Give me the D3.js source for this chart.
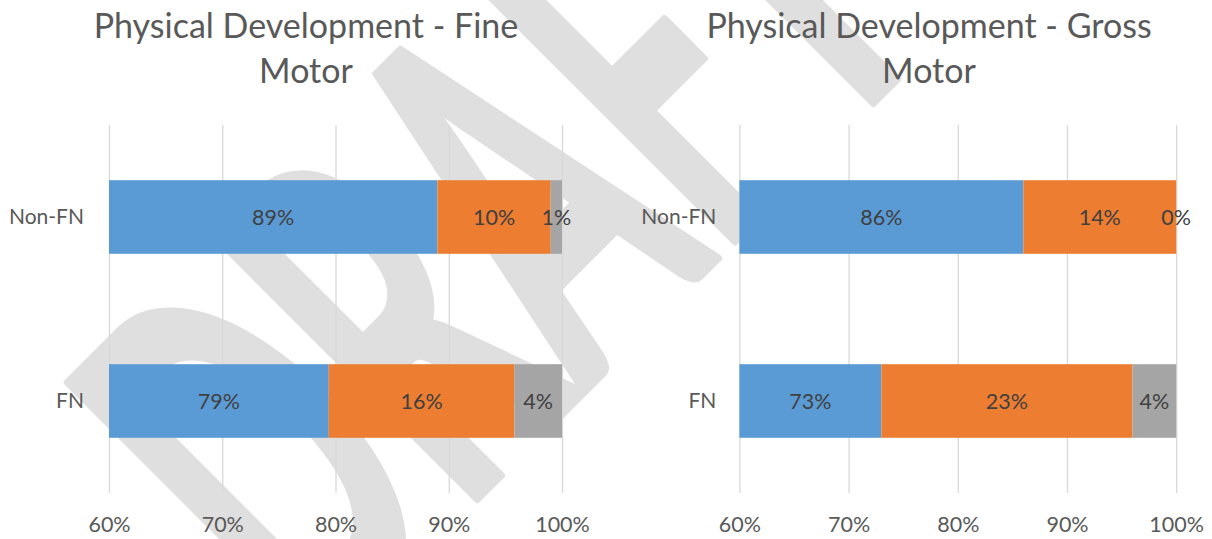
<!DOCTYPE html>
<html>
<head>
<meta charset="utf-8">
<script src="https://cdn.jsdelivr.net/npm/d3@7"></script>
<style>
  html, body { margin: 0; padding: 0; background: #ffffff; }
  svg { display: block; font-family: Lato, "Open Sans", sans-serif; }
</style>
</head>
<body>
<svg id="chart" width="1212" height="539"></svg>
<script>
// Categories and stacked shares (each row sums to 100%)
const categories = ["Non-FN", "FN"];
const segmentKeys = ["segment1", "segment2", "segment3"];
const segmentColors = ["#5B9BD5", "#ED7D31", "#A5A5A5"];

const fineNonFN = [0.89, 0.10, 0.01];
const fineFN = [0.794, 0.164, 0.042];
const grossNonFN = [0.86, 0.14, 0.00];
const grossFN = [0.73, 0.23, 0.04];

const tickValues = [0.6, 0.7, 0.8, 0.9, 1.0];
const fineTitle = ["Physical Development - Fine", "Motor"];
const grossTitle = ["Physical Development - Gross", "Motor"];
const watermarkText = "DRAFT";

const svg = d3.select("#chart");
const pct = d3.format(".0%");

// Background watermark
svg.append("text")
  .attr("transform", "translate(314,662) rotate(-45) scale(0.53,1)")
  .attr("font-family", "Lato, sans-serif")
  .attr("font-weight", 700)
  .attr("font-size", 514)
  .attr("fill", "#dfdfdf")
  .attr("stroke", "#dfdfdf")
  .attr("stroke-width", 8)
  .attr("stroke-linejoin", "round")
  .text(watermarkText);

function drawPanel(opts) {
  const g = svg.append("g");
  const rows = categories.map((c, i) => ({ category: c, values: opts.rows[i] }));

  const x = d3.scaleLinear().domain([0.6, 1.0]).range([opts.x0, opts.x1]).clamp(true);
  const y = d3.scaleBand().domain(categories).range([125, 493])
    .paddingInner(0.6).paddingOuter(0.3);

  // Title
  g.append("text")
    .attr("text-anchor", "middle")
    .attr("font-size", 34)
    .attr("fill", "#595959")
    .selectAll("tspan")
    .data(opts.title)
    .join("tspan")
    .attr("x", opts.titleX)
    .attr("y", (d, i) => 38 + i * 45)
    .text(d => d);

  // Vertical gridlines
  g.append("g")
    .attr("transform", "translate(0,493)")
    .call(d3.axisBottom(x).tickValues(tickValues).tickSize(-368).tickFormat(""))
    .call(a => a.select(".domain").remove())
    .call(a => a.selectAll("line").attr("stroke", "#d9d9d9").attr("stroke-width", 1.3));

  // Stacked bars
  const stacked = rows.map(r => {
    let acc = 0;
    return r.values.map((v, k) => {
      const seg = { category: r.category, key: segmentKeys[k], k, v, start: acc, end: acc + v };
      acc += v;
      return seg;
    });
  }).flat();

  g.append("g")
    .selectAll("rect")
    .data(stacked)
    .join("rect")
    .attr("x", d => x(d.start))
    .attr("y", d => y(d.category))
    .attr("width", d => Math.max(0, x(d.end) - x(d.start)))
    .attr("height", y.bandwidth())
    .attr("fill", d => segmentColors[d.k]);

  // Data labels
  g.append("g")
    .selectAll("text")
    .data(stacked)
    .join("text")
    .attr("x", d => (x(d.start) + x(d.end)) / 2)
    .attr("y", d => y(d.category) + y.bandwidth() / 2)
    .attr("dy", "0.36em")
    .attr("text-anchor", "middle")
    .attr("font-size", 21.5)
    .attr("fill", "#404040")
    .text(d => pct(d.v));

  // Category axis
  g.append("g")
    .attr("transform", `translate(${opts.x0},0)`)
    .call(d3.axisLeft(y).tickSize(0).tickPadding(opts.catPad))
    .call(a => a.select(".domain").remove())
    .call(a => a.selectAll("text").attr("font-size", 21).attr("fill", "#595959")
      .attr("font-family", "Lato, sans-serif"));

  // Value axis labels
  g.append("g")
    .attr("transform", "translate(0,493)")
    .call(d3.axisBottom(x).tickValues(tickValues).tickSize(0).tickPadding(24).tickFormat(pct))
    .call(a => a.select(".domain").remove())
    .call(a => a.selectAll("text").attr("font-size", 21.5).attr("fill", "#595959")
      .attr("font-family", "Lato, sans-serif"));
}

drawPanel({ rows: [fineNonFN, fineFN], title: fineTitle, titleX: 306, x0: 109, x1: 562, catPad: 25 });
drawPanel({ rows: [grossNonFN, grossFN], title: grossTitle, titleX: 929, x0: 739.4, x1: 1176.2, catPad: 23 });
</script>
</body>
</html>
